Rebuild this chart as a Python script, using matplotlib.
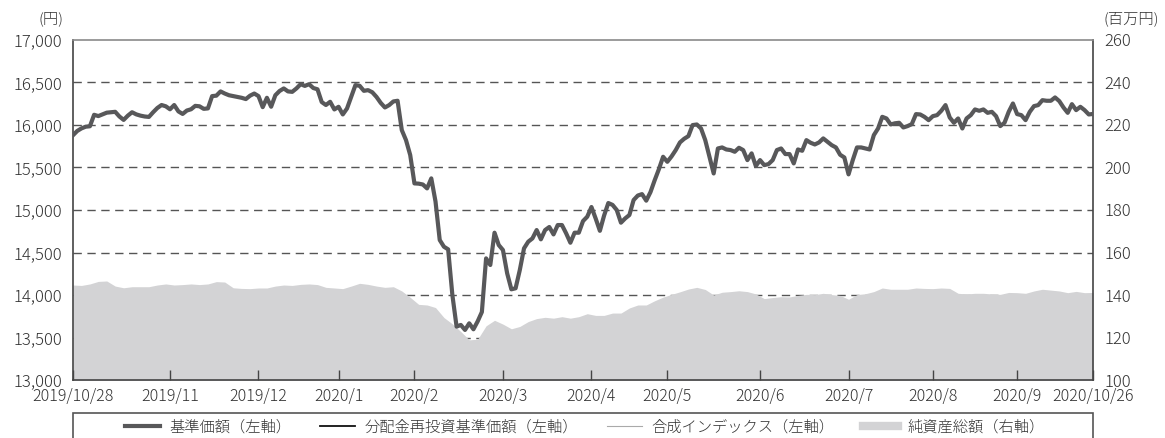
import numpy as np
import pandas as pd
import matplotlib
matplotlib.use("Agg")
import matplotlib.pyplot as plt
from matplotlib.lines import Line2D
from matplotlib.patches import Rectangle

plt.rcParams['font.family'] = ['Noto Sans CJK JP', 'DejaVu Sans']
plt.rcParams['font.weight'] = 'light'

# 営業日 (平日の休場日を除く)
holidays = ['2019-11-04', '2019-12-31', '2020-01-01', '2020-01-02', '2020-01-03',
            '2020-01-13', '2020-02-11', '2020-02-24', '2020-03-20', '2020-04-29',
            '2020-05-04', '2020-05-05', '2020-05-06', '2020-07-23', '2020-07-24',
            '2020-08-10', '2020-09-21', '2020-09-22']
dates = pd.bdate_range('2019-10-28', '2020-10-26', freq='C', holidays=holidays)

# 基準価額 (円) 毎営業日
nav = [15880, 15930, 15960, 15980, 15985, 16120, 16105, 16125, 16145, 16150,
       16155, 16100, 16060, 16110, 16150, 16125, 16110, 16100, 16095, 16150,
       16200, 16235, 16220, 16185, 16235, 16160, 16130, 16170, 16185, 16225,
       16220, 16190, 16195, 16340, 16345, 16395, 16370, 16350, 16340, 16330,
       16320, 16305, 16345, 16370, 16340, 16210, 16320, 16215, 16350, 16400,
       16430, 16395, 16390, 16430, 16480, 16460, 16480, 16435, 16420, 16270,
       16235, 16273, 16183, 16214, 16124, 16194, 16332, 16469, 16461, 16402,
       16410, 16385, 16330, 16260, 16206, 16234, 16277, 16285, 15940, 15822,
       15646, 15313, 15310, 15300, 15254, 15372, 15100, 14647, 14568, 14537,
       14000, 13628, 13648, 13589, 13667, 13597, 13690, 13800, 14431, 14353,
       14733, 14588, 14529, 14255, 14067, 14079, 14294, 14549, 14627, 14666,
       14764, 14655, 14764, 14800, 14713, 14823, 14823, 14725, 14615, 14733,
       14733, 14870, 14921, 15035, 14900, 14755, 14935, 15082, 15060, 15000,
       14851, 14901, 14941, 15117, 15170, 15187, 15110, 15210, 15350, 15480,
       15626, 15567, 15630, 15705, 15795, 15838, 15869, 15999, 16006, 15959,
       15822, 15626, 15430, 15724, 15736, 15712, 15705, 15685, 15732, 15705,
       15587, 15666, 15517, 15587, 15528, 15540, 15587, 15705, 15724, 15658,
       15658, 15548, 15712, 15697, 15822, 15791, 15771, 15795, 15842, 15803,
       15763, 15736, 15650, 15618, 15419, 15587, 15736, 15736, 15724, 15712,
       15881, 15959, 16096, 16077, 16006, 16020, 16026, 15971, 15987, 16010,
       16128, 16124, 16096, 16057, 16104, 16116, 16167, 16234, 16089, 16026,
       16077, 15959, 16077, 16116, 16183, 16167, 16183, 16143, 16155, 16104,
       15987, 16026, 16155, 16253, 16128, 16116, 16057, 16155, 16222, 16234,
       16292, 16285, 16285, 16324, 16281, 16206, 16143, 16245, 16175, 16214,
       16175, 16124, 16130]
# 分配金なし -> 分配金再投資基準価額は基準価額と同じ, 合成インデックスもほぼ重なる
nav_reinvest = nav
index_line = nav

# 純資産総額 (百万円) 2営業日ごと
net_assets = [144.7, 144.5, 145.2, 146.4, 146.6, 144.2, 143.4, 143.9, 143.9, 143.9,
              144.7, 145.2, 144.7, 144.9, 145.2, 144.9, 145.2, 146.3, 146.1, 143.4,
              143.1, 143.0, 143.3, 143.3, 144.2, 144.7, 144.5, 145.0, 145.2, 144.9,
              143.6, 143.3, 143.0, 144.2, 145.5, 145.0, 144.2, 143.6, 143.9, 141.9,
              138.9, 135.6, 135.3, 134.1, 129.4, 126.4, 122.8, 118.9, 119.2, 125.5,
              128.1, 126.3, 124.1, 125.2, 127.5, 128.9, 129.5, 129.1, 129.8, 129.1,
              129.8, 131.2, 130.4, 130.4, 131.5, 131.5, 133.9, 135.3, 135.3, 137.3,
              139.0, 140.3, 141.5, 142.8, 143.6, 142.6, 140.0, 141.3, 141.6, 142.0,
              141.6, 140.5, 138.3, 138.8, 139.2, 139.1, 139.8, 140.3, 140.2, 140.8,
              140.2, 139.8, 138.0, 140.2, 140.6, 141.6, 143.3, 142.7, 142.7, 142.7,
              143.3, 143.1, 143.0, 143.3, 143.1, 140.8, 140.5, 140.8, 140.8, 140.5,
              140.3, 141.2, 141.1, 140.8, 141.9, 142.7, 142.3, 141.9, 141.1, 141.7,
              141.1, 141.2]

legend_labels = ['基準価額（左軸）', '分配金再投資基準価額（左軸）',
                 '合成インデックス（左軸）', '純資産総額（右軸）']

x = np.arange(len(dates))
x_assets = x[::2]

# 月末営業日に目盛
pos = pd.Series(x, index=dates)
month_end = pos.groupby(dates.to_period('M')).max()
tick_pos = [0] + list(month_end.values[1:-1]) + [x[-1]]
tick_lab = ['2019/10/28'] + [f'{p.year}/{p.month}' for p in month_end.index[1:-1]] + ['2020/10/26']

line_col = '#58585a'
area_col = '#d3d3d5'
txt_col = '#333333'

fig = plt.figure(figsize=(11.65, 4.38), dpi=100)
ax = fig.add_axes([0.0627, 0.1324, 0.8755, 0.7763])
ax2 = ax.twinx()
ax.set_zorder(ax2.get_zorder() + 1)
ax.patch.set_visible(False)

# 右軸: 純資産総額とグリッド
ax2.fill_between(x_assets, 0, net_assets, color=area_col, lw=0, zorder=1)
ax2.set_ylim(100, 260)
ax2.set_yticks(np.arange(100, 261, 20))
ax2.set_axisbelow(True)
ax2.yaxis.grid(True, color='#555555', lw=1.0, ls=(0, (6, 4)))
ax2.tick_params(axis='y', length=0, pad=8, labelsize=12, labelcolor=txt_col)
for s in ax2.spines.values():
    s.set_visible(False)
gl = ax2.yaxis.get_gridlines()
gl[0].set_visible(False)
gl[-1].set_visible(False)

# 左軸: 基準価額
ax.plot(x, index_line, color='#aaaaaa', lw=0.8, zorder=2)
ax.plot(x, nav_reinvest, color='#111111', lw=1.3, zorder=3)
ax.plot(x, nav, color=line_col, lw=3.0, zorder=4, solid_joinstyle='round')
ax.set_xlim(0, x[-1])
ax.set_ylim(13000, 17000)
ax.set_yticks(np.arange(13000, 17001, 500))
ax.set_yticklabels([f'{v:,}' for v in range(13000, 17001, 500)])
ax.set_xticks(tick_pos)
ax.set_xticklabels(tick_lab)
ax.tick_params(axis='y', length=0, pad=8, labelsize=12, labelcolor=txt_col)
ax.tick_params(axis='x', direction='in', length=7, width=1, color='#444444',
               pad=6, labelsize=11.5, labelcolor=txt_col)
for side in ['left', 'right', 'bottom']:
    ax.spines[side].set_color('#444444')
    ax.spines[side].set_linewidth(1.2)
ax.spines['top'].set_color('#8a8a8a')
ax.spines['top'].set_linewidth(1.2)

fig.text(0.0545, 0.958, '(円)', ha='right', va='center', fontsize=11, color=txt_col)
fig.text(0.947, 0.958, '(百万円)', ha='left', va='center', fontsize=11, color=txt_col)

# 凡例 (下枠ははみ出し)
handles = [Line2D([], [], color=line_col, lw=3.0),
           Line2D([], [], color='#111111', lw=1.3),
           Line2D([], [], color='#aaaaaa', lw=0.8),
           Line2D([], [], color=area_col, lw=6)]
fig.legend(handles, legend_labels, loc='center', bbox_to_anchor=(0.502, 0.024),
           ncol=4, frameon=False, fontsize=11, handlelength=2.3,
           handletextpad=0.6, columnspacing=1.9, labelcolor=txt_col)
fig.add_artist(Rectangle((0.0627, -0.05), 0.8755, 0.05 + (438 - 413) / 438,
                         transform=fig.transFigure, fill=False,
                         edgecolor='#555555', lw=1.2, clip_on=False))

fig.savefig('out.png', dpi=100)
